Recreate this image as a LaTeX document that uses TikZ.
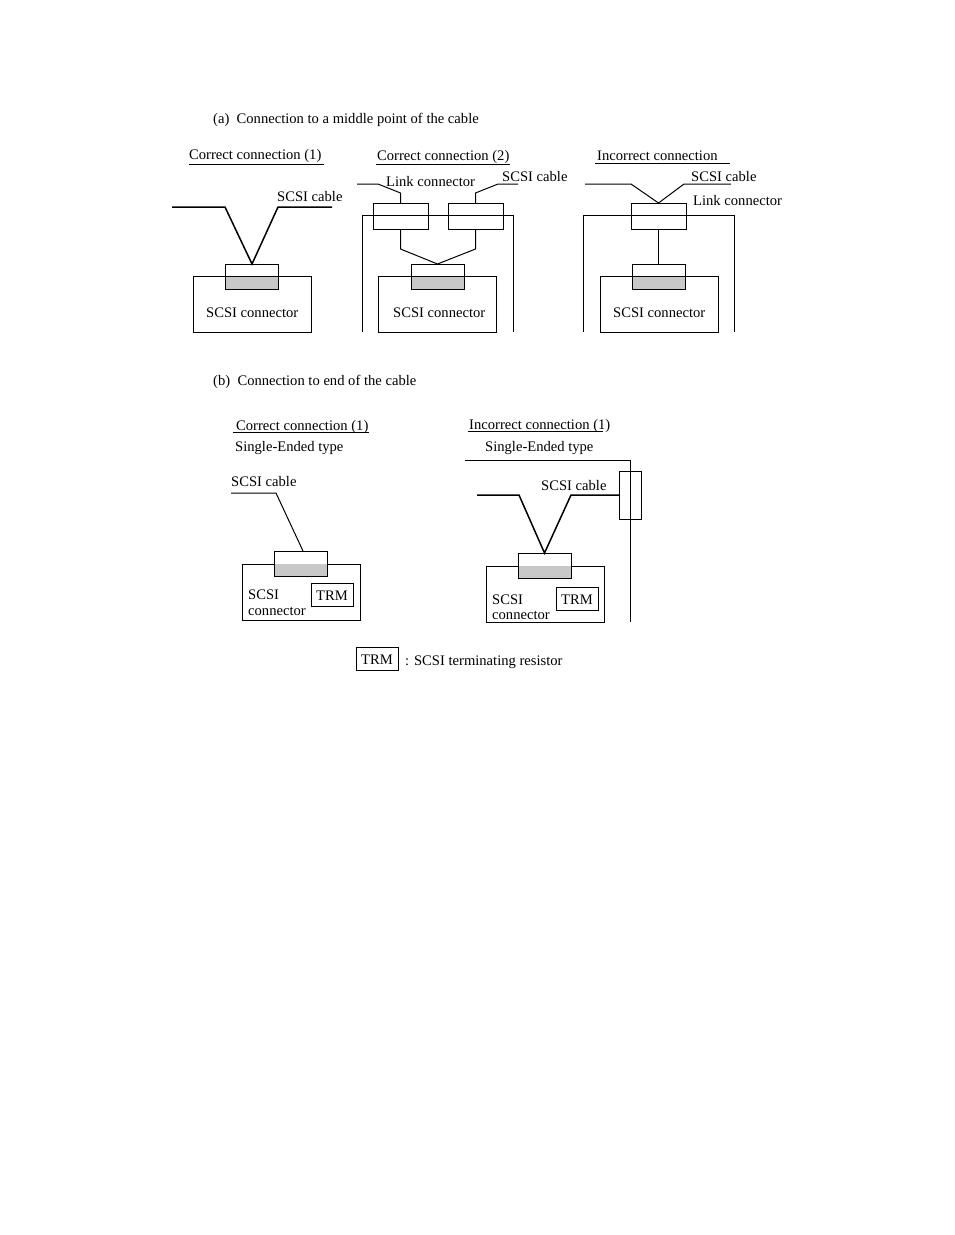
\documentclass[tikz,border=0pt]{standalone}
\usepackage{fontspec}
\setmainfont{Liberation Serif}
\definecolor{plugGray}{HTML}{C8C8C8}
\newcommand{\plugwidth}{53pt}
\newcommand{\plugheight}{25pt}
% connector plug: lower half gray, half sits inside the device box
\newcommand{\scsiplug}[3]{%
  \node[plugbox] (#1) at (#2,#3) {};
  \fill[plugGray] (#1.west) rectangle (#1.south east);
  \draw[thinline] (#1.north west) rectangle (#1.south east);}
\tikzset{
  thinline/.style={line width=1pt},
  cable/.style={line width=1.5pt},
  textlabel/.style={anchor=base west, inner sep=0pt, yshift=-1pt, font=\fontsize{14.6}{17}\selectfont},
  plugbox/.style={minimum width=\plugwidth, minimum height=\plugheight, inner sep=0pt, outer sep=0pt},
  devbox/.style={draw, line width=1pt, minimum width=118pt, minimum height=56pt, inner sep=0pt, outer sep=0pt},
  linkbox/.style={draw, line width=1pt, minimum width=55pt, minimum height=26pt, inner sep=0pt, outer sep=0pt},
  trmbox/.style={draw, line width=1pt, minimum width=42pt, minimum height=23pt, inner sep=0pt, outer sep=0pt, text height=11.6pt, font=\fontsize{14.6}{17}\selectfont}
}
\begin{document}
\begin{tikzpicture}[x=1pt,y=-1pt]
  \useasboundingbox[fill=white] (0,0) rectangle (954,1235);

  % titles
  \node[textlabel] (titleA) at (213,122) {(a)\ \ Connection to a middle point of the cable};
  \node[textlabel] (titleB) at (213,384) {(b)\ \ Connection to end of the cable};

  % (a) correct connection (1)
  \node[textlabel] (headAa) at (189,158) {Correct connection (1)};
  \draw[thinline] (189,164) -- (324,164);
  \node[devbox] (devAa) at (252,304) {};
  \scsiplug{plugAa}{252}{276.5}
  \node[textlabel] (nameAa) at (206,316.5) {SCSI connector};
  \node[textlabel] (cableAa) at (277,200) {SCSI cable};
  \coordinate (cabAaL) at (172,207);
  \coordinate (cabAaR) at (332,207);
  \draw[cable] (cabAaL) -- (225,207) -- (plugAa.north) -- (278,207) -- (cabAaR);

  % (a) correct connection (2)
  \node[textlabel] (headAb) at (377,159) {Correct connection (2)};
  \draw[thinline] (376,164) -- (510,164);
  \draw[thinline] (362.5,332) -- (362.5,215) -- (513.5,215) -- (513.5,332);
  \node[linkbox] (linkAbL) at (400.5,216) {};
  \node[linkbox] (linkAbR) at (475.5,216) {};
  \node[devbox] (devAb) at (437.5,304) {};
  \scsiplug{plugAb}{437.5}{276.5}
  \node[textlabel] (nameAb) at (393,316.5) {SCSI connector};
  \node[textlabel] (linkNameAb) at (386,185) {Link connector};
  \node[textlabel] (cableAb) at (502,180) {SCSI cable};
  \coordinate (cabAbL) at (357,184);
  \coordinate (cabAbR) at (518,184);
  \draw[thinline] (cabAbL) -- (378,184) -- (400.5,193) -- (linkAbL.north);
  \draw[thinline] (cabAbR) -- (498,184) -- (475.5,193) -- (linkAbR.north);
  \draw[thinline] (linkAbL.south) -- (400.5,249) -- (plugAb.north) -- (475.5,249) -- (linkAbR.south);

  % (a) incorrect connection
  \node[textlabel] (headAc) at (597,159) {Incorrect connection};
  \draw[thinline] (595,163.5) -- (730,163.5);
  \draw[thinline] (583.5,332) -- (583.5,215) -- (734.5,215) -- (734.5,332);
  \node[linkbox] (linkAc) at (658.5,216) {};
  \node[devbox] (devAc) at (659,304) {};
  \scsiplug{plugAc}{658.5}{276.5}
  \node[textlabel] (nameAc) at (613,316.5) {SCSI connector};
  \node[textlabel] (cableAc) at (691,180) {SCSI cable};
  \node[textlabel] (linkNameAc) at (693,204) {Link connector};
  \coordinate (cabAcL) at (585,184);
  \coordinate (cabAcR) at (731,184);
  \draw[thinline] (cabAcL) -- (631,184) -- (linkAc.north) -- (684,184) -- (cabAcR);
  \draw[thinline] (linkAc.south) -- (plugAc.north);

  % (b) correct connection (1)
  \node[textlabel] (headBa) at (236,429) {Correct connection (1)};
  \draw[thinline] (233,432) -- (369,432);
  \node[textlabel] (typeBa) at (235,450.5) {Single-Ended type};
  \node[devbox] (devBa) at (301.5,592) {};
  \scsiplug{plugBa}{301}{563.5}
  \node[trmbox] (trmBa) at (332,594.5) {TRM};
  \node[textlabel] (nameBa) at (248,598.5) {SCSI};
  \node[textlabel] (nameBb) at (248,614) {connector};
  \node[textlabel] (cableBa) at (231,485.5) {SCSI cable};
  \coordinate (cabBa) at (231,493);
  \draw[thinline] (cabBa) -- (276,493) -- ([xshift=2pt]plugBa.north);

  % (b) incorrect connection (1)
  \node[textlabel] (headBb) at (469,428) {Incorrect connection (1)};
  \draw[thinline] (468,431) -- (603,431);
  \node[textlabel] (typeBb) at (485,450.5) {Single-Ended type};
  \node[draw, line width=1pt, minimum width=22pt, minimum height=48pt, inner sep=0pt, outer sep=0pt] (resBb) at (630,495) {};
  \coordinate (busStart) at (465,460);
  \coordinate (busEnd) at (630,622);
  \draw[thinline] (busStart) -- (630,460) -- (busEnd);
  \node[devbox] (devBb) at (545,594.5) {};
  \scsiplug{plugBb}{544.5}{565.5}
  \node[trmbox] (trmBb) at (577,599) {TRM};
  \node[textlabel] (nameBc) at (492,603.5) {SCSI};
  \node[textlabel] (nameBd) at (492,618.5) {connector};
  \node[textlabel] (cableBb) at (541,489) {SCSI cable};
  \coordinate (cabBb) at (477,495);
  \draw[cable] (cabBb) -- (519,495) -- (plugBb.north) -- (571,495) -- (resBb.west);

  % legend
  \node[trmbox] (trmKey) at (377,658.5) {TRM};
  \node[textlabel] (keyText) at (405,664) {: SCSI terminating resistor};
\end{tikzpicture}
\end{document}
